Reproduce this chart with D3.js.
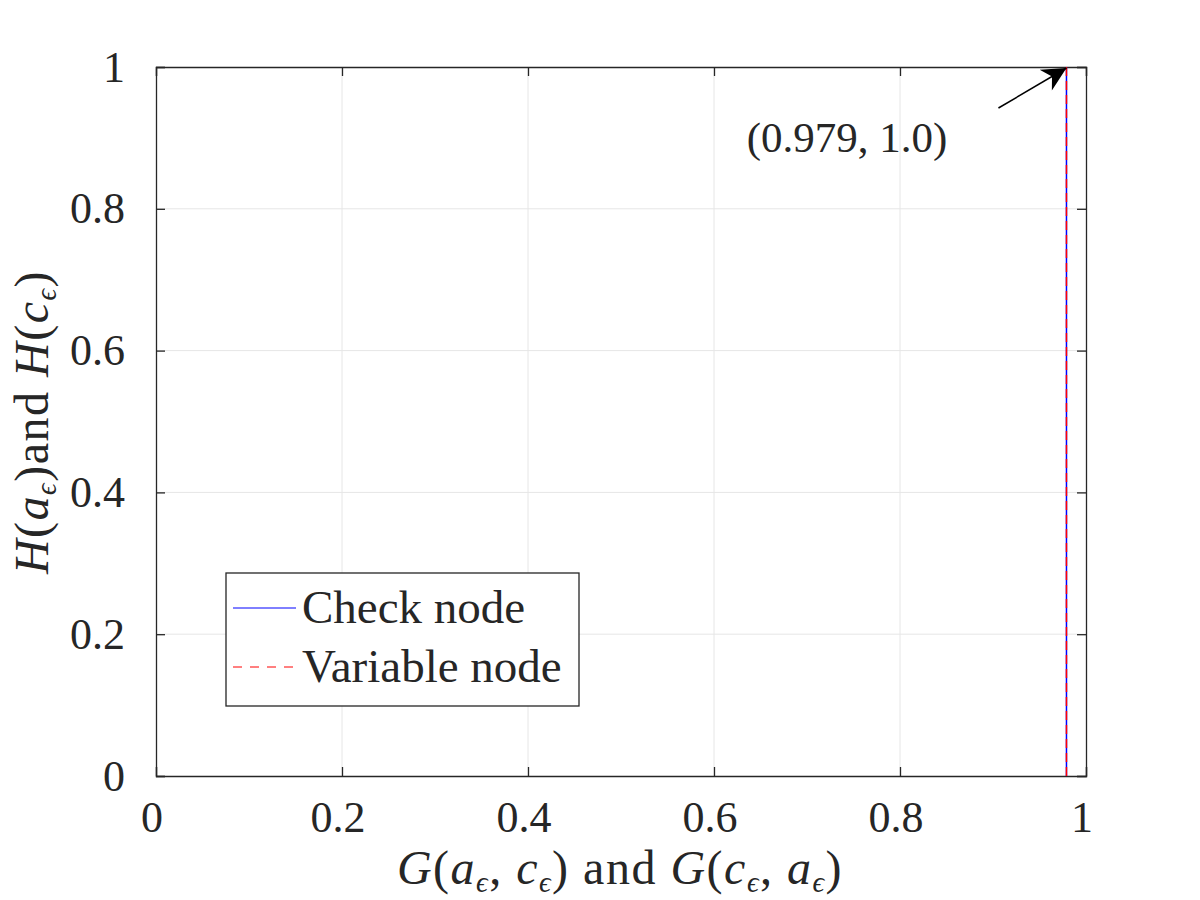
<!DOCTYPE html>
<html>
<head>
<meta charset="utf-8">
<script src="https://cdn.jsdelivr.net/npm/d3@7"></script>
<style>
  body { margin: 0; background: #fff; }
  svg text { font-family: "Liberation Serif", "DejaVu Serif", serif; fill: #262626; }
</style>
</head>
<body>
<div id="canvas"></div>
<script>
// H values along the vertical curve and the G value where both nodes sit
const hValues = [0, 0.2, 0.4, 0.6, 0.8, 1.0];
const gCheck = [0.979, 0.979, 0.979, 0.979, 0.979, 0.979];
const gVariable = [0.979, 0.979, 0.979, 0.979, 0.979, 0.979];
const xTicks = [0, 0.2, 0.4, 0.6, 0.8, 1];
const yTicks = [0, 0.2, 0.4, 0.6, 0.8, 1];
const seriesNames = ["Check node", "Variable node"];
const annotPoint = {g: 0.979, h: 1.0, label: "(0.979, 1.0)"};

let margin = {left: 156, top: 67, right: 114, bottom: 124};
let width = 1200, height = 900;

let svg = d3.select("#canvas")
  .append("svg")
    .attr("width", width)
    .attr("height", height);

let x = d3.scaleLinear().domain([0, 1]).range([margin.left, width - margin.right]);
let y = d3.scaleLinear().domain([0, 1]).range([height - margin.bottom, margin.top]);

let fmt = d => d === 0 || d === 1 ? String(d) : d.toFixed(1);

// grid
svg.append("g")
  .selectAll("line.gx")
  .data(xTicks.slice(1, -1))
  .enter().append("line")
    .attr("x1", d => x(d)).attr("x2", d => x(d))
    .attr("y1", y(0)).attr("y2", y(1))
    .attr("stroke", "#e6e6e6").attr("stroke-width", 1);
svg.append("g")
  .selectAll("line.gy")
  .data(yTicks.slice(1, -1))
  .enter().append("line")
    .attr("x1", x(0)).attr("x2", x(1))
    .attr("y1", d => y(d)).attr("y2", d => y(d))
    .attr("stroke", "#e6e6e6").attr("stroke-width", 1);

// axes (ticks inside)
let xAxis = svg.append("g")
  .attr("transform", `translate(0,${y(0)})`)
  .call(d3.axisBottom(x).tickValues(xTicks).tickSize(-9).tickPadding(25).tickFormat(fmt));
let yAxis = svg.append("g")
  .attr("transform", `translate(${x(0)},0)`)
  .call(d3.axisLeft(y).tickValues(yTicks).tickSize(-9).tickPadding(31).tickFormat(fmt));
svg.append("g")
  .attr("transform", `translate(0,${y(1)})`)
  .call(d3.axisTop(x).tickValues(xTicks).tickSize(-9).tickFormat(""));
svg.append("g")
  .attr("transform", `translate(${x(1)},0)`)
  .call(d3.axisRight(y).tickValues(yTicks).tickSize(-9).tickFormat(""));

svg.selectAll(".domain, .tick line").attr("stroke", "#262626").attr("stroke-width", 1.3);
svg.selectAll(".tick text")
  .attr("font-family", "Liberation Serif")
  .attr("font-size", 44)
  .attr("fill", "#262626");
xAxis.selectAll(".tick text").attr("dx", "-0.1em");

// curves
let line = d3.line().x(d => x(d[0])).y(d => y(d[1]));
svg.append("path")
  .datum(hValues.map((h, i) => [gCheck[i], h]))
  .attr("d", line)
  .attr("fill", "none")
  .attr("stroke", "#0000ff")
  .attr("stroke-width", 1.5);
svg.append("path")
  .datum(hValues.map((h, i) => [gVariable[i], h]))
  .attr("d", line)
  .attr("fill", "none")
  .attr("stroke", "#ff0000")
  .attr("stroke-width", 1.5)
  .attr("stroke-dasharray", "9,5");

// annotation arrow
svg.append("defs").append("marker")
  .attr("id", "arrowhead")
  .attr("viewBox", "0 0 10 10")
  .attr("refX", 10).attr("refY", 5)
  .attr("markerWidth", 34).attr("markerHeight", 24)
  .attr("markerUnits", "userSpaceOnUse")
  .attr("orient", "auto")
  .append("path")
    .attr("d", "M0,0 L10,5 L0,10 L3,5 Z")
    .attr("fill", "#000");

svg.append("line")
  .attr("x1", x(annotPoint.g) - 68).attr("y1", y(annotPoint.h) + 41)
  .attr("x2", x(annotPoint.g)).attr("y2", y(annotPoint.h) + 1)
  .attr("stroke", "#000").attr("stroke-width", 1.5)
  .attr("marker-end", "url(#arrowhead)");

svg.append("text")
  .attr("x", 847).attr("y", 152)
  .attr("text-anchor", "middle")
  .attr("font-size", 43)
  .attr("fill", "#000")
  .text(annotPoint.label);

// legend
let lg = svg.append("g").attr("transform", "translate(226,573)");
lg.append("rect")
  .attr("width", 353).attr("height", 133)
  .attr("fill", "#fff").attr("stroke", "#262626").attr("stroke-width", 1.3);
seriesNames.forEach((name, i) => {
  let yy = 35 + i * 59;
  lg.append("line")
    .attr("x1", 7).attr("x2", 70)
    .attr("y1", yy).attr("y2", yy)
    .attr("stroke", i === 0 ? "#0000ff" : "#ff0000")
    .attr("stroke-width", 1)
    .attr("stroke-dasharray", i === 0 ? null : "9,8");
  lg.append("text")
    .attr("x", 76).attr("y", yy + 15)
    .attr("font-size", 47)
    .attr("fill", "#000")
    .text(name);
});

// axis labels with subscripts
function mathLabel(t, parts) {
  parts.forEach(p => {
    let ts = t.append("tspan").text(p.s);
    if (p.i) ts.attr("font-style", "italic");
    if (p.sub) ts.attr("font-size", "0.6em").attr("baseline-shift", "-28%");
  });
}
let xl = svg.append("text")
  .attr("x", 620).attr("y", 884)
  .attr("text-anchor", "middle")
  .attr("font-size", 48)
  .attr("letter-spacing", 1.5)
  .attr("fill", "#000");
mathLabel(xl, [
  {s: "G", i: 1}, {s: "("}, {s: "a", i: 1}, {s: "ϵ", i: 1, sub: 1}, {s: ", "},
  {s: "c", i: 1}, {s: "ϵ", i: 1, sub: 1}, {s: ")  and  "},
  {s: "G", i: 1}, {s: "("}, {s: "c", i: 1}, {s: "ϵ", i: 1, sub: 1}, {s: ", "},
  {s: "a", i: 1}, {s: "ϵ", i: 1, sub: 1}, {s: ")"}
]);

let yl = svg.append("text")
  .attr("transform", "translate(48,422) rotate(-90)")
  .attr("text-anchor", "middle")
  .attr("font-size", 48)
  .attr("letter-spacing", 1.5)
  .attr("fill", "#000");
mathLabel(yl, [
  {s: "H", i: 1}, {s: "("}, {s: "a", i: 1}, {s: "ϵ", i: 1, sub: 1}, {s: ")and  "},
  {s: "H", i: 1}, {s: "("}, {s: "c", i: 1}, {s: "ϵ", i: 1, sub: 1}, {s: ")"}
]);
</script>
</body>
</html>
